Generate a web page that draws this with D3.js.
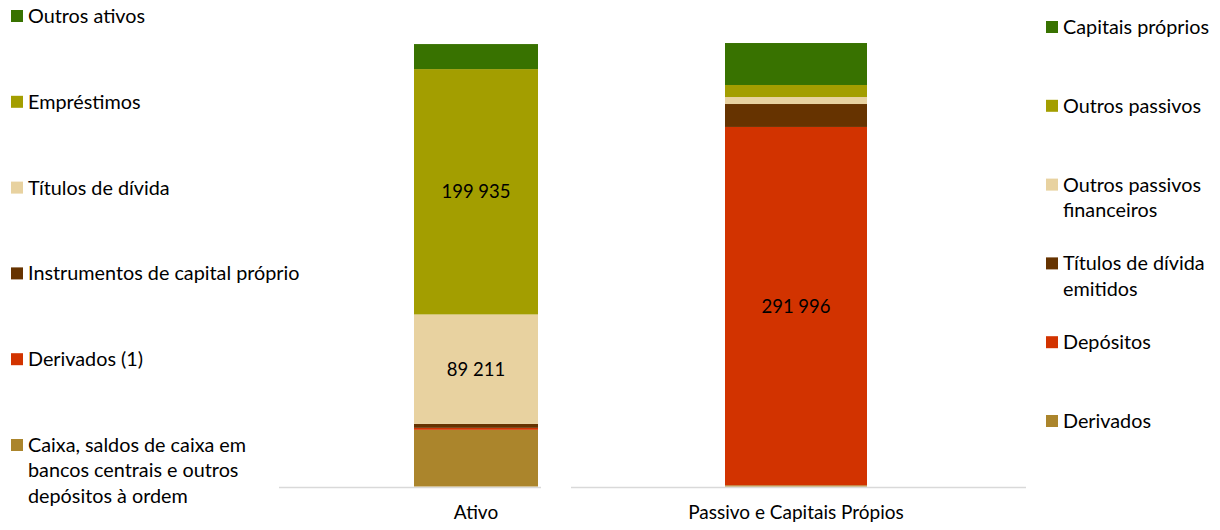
<!DOCTYPE html>
<html>
<head>
<meta charset="utf-8">
<script src="https://cdn.jsdelivr.net/npm/d3@7"></script>
<style>
  html, body { margin: 0; padding: 0; background: #ffffff; }
  svg { display: block; font-family: Lato, "Open Sans", sans-serif; }
</style>
</head>
<body>
<svg id="chart" width="1220" height="530"></svg>
<script>
// Balance sheet composition (values in millions), stacked bottom to top
const assetCategories = [
  "Caixa, saldos de caixa em\nbancos centrais e outros\ndepósitos à ordem",
  "Derivados (1)",
  "Instrumentos de capital próprio",
  "Títulos de dívida",
  "Empréstimos",
  "Outros ativos"
];
const assetValues = [46200, 1600, 3200, 89211, 199935, 20400];

const liabilityCategories = [
  "Derivados",
  "Depósitos",
  "Títulos de dívida\nemitidos",
  "Outros passivos\nfinanceiros",
  "Outros passivos",
  "Capitais próprios"
];
const liabilityValues = [1000, 291996, 18700, 5700, 9800, 34200];

const assetColors = ["#ab852c", "#d23300", "#663300", "#e8d2a0", "#a39e00", "#387200"];
const liabilityColors = ["#ab852c", "#d23300", "#663300", "#e8d2a0", "#a39e00", "#387200"];

const barNames = ["Ativo", "Passivo e Capitais Própios"];
const labelThreshold = 50000;

const fmt = v => d3.format(",")(v).replace(/,/g, " ");

const svg = d3.select("#chart");
const y = d3.scaleLinear().domain([0, 365000]).range([486.5, 38.6]);

const panels = [
  {
    name: barNames[0], cats: assetCategories, vals: assetValues, colors: assetColors,
    band: [414, 538], axis: [279, 541],
    legend: { x: 11, y0: 16, step: 85.8 }
  },
  {
    name: barNames[1], cats: liabilityCategories, vals: liabilityValues, colors: liabilityColors,
    band: [725, 867], axis: [571, 1026],
    legend: { x: 1046, y0: 27, step: 78.8 }
  }
];

panels.forEach(p => {
  const x = d3.scaleBand().domain([p.name]).range(p.band).padding(0);
  const g = svg.append("g");

  // baseline
  g.append("line")
    .attr("x1", p.axis[0]).attr("x2", p.axis[1])
    .attr("y1", y(0) + 1).attr("y2", y(0) + 1)
    .attr("stroke", "#d9d9d9").attr("stroke-width", 1.6);

  // stacked segments
  let acc = 0;
  const segs = p.vals.map((v, i) => {
    const s = { y0: acc, y1: acc + v, v, i };
    acc += v;
    return s;
  });

  g.selectAll("rect.seg").data(segs).join("rect")
    .attr("class", "seg")
    .attr("x", x(p.name))
    .attr("width", x.bandwidth())
    .attr("y", d => y(d.y1))
    .attr("height", d => y(d.y0) - y(d.y1))
    .attr("fill", d => p.colors[d.i]);

  // value labels
  g.selectAll("text.val").data(segs.filter(d => d.v > labelThreshold)).join("text")
    .attr("class", "val")
    .attr("x", x(p.name) + x.bandwidth() / 2)
    .attr("y", d => (y(d.y0) + y(d.y1)) / 2)
    .attr("dy", "0.35em")
    .attr("text-anchor", "middle")
    .attr("font-size", 18.5)
    .attr("fill", "#000")
    .text(d => fmt(d.v));

  // category label
  const ax = g.append("g")
    .attr("transform", `translate(0,${y(0)})`)
    .call(d3.axisBottom(x).tickSize(0).tickPadding(19));
  ax.select(".domain").remove();
  ax.selectAll("text")
    .attr("font-size", 19)
    .attr("font-family", "Lato, 'Open Sans', sans-serif")
    .attr("fill", "#000");

  // legend, listed top to bottom in reverse stack order
  const order = d3.range(p.cats.length).reverse();
  const lg = g.append("g");
  order.forEach((idx, k) => {
    const cy = p.legend.y0 + k * p.legend.step;
    lg.append("rect")
      .attr("x", p.legend.x).attr("y", cy - 6)
      .attr("width", 12).attr("height", 12)
      .attr("fill", p.colors[idx]);
    const t = lg.append("text")
      .attr("x", p.legend.x + 17)
      .attr("y", cy)
      .attr("font-size", 19.8)
      .attr("fill", "#000");
    p.cats[idx].split("\n").forEach((line, li) => {
      t.append("tspan")
        .attr("x", p.legend.x + 17)
        .attr("dy", li === 0 ? "0.35em" : "25.3")
        .text(line);
    });
  });
});
</script>
</body>
</html>
